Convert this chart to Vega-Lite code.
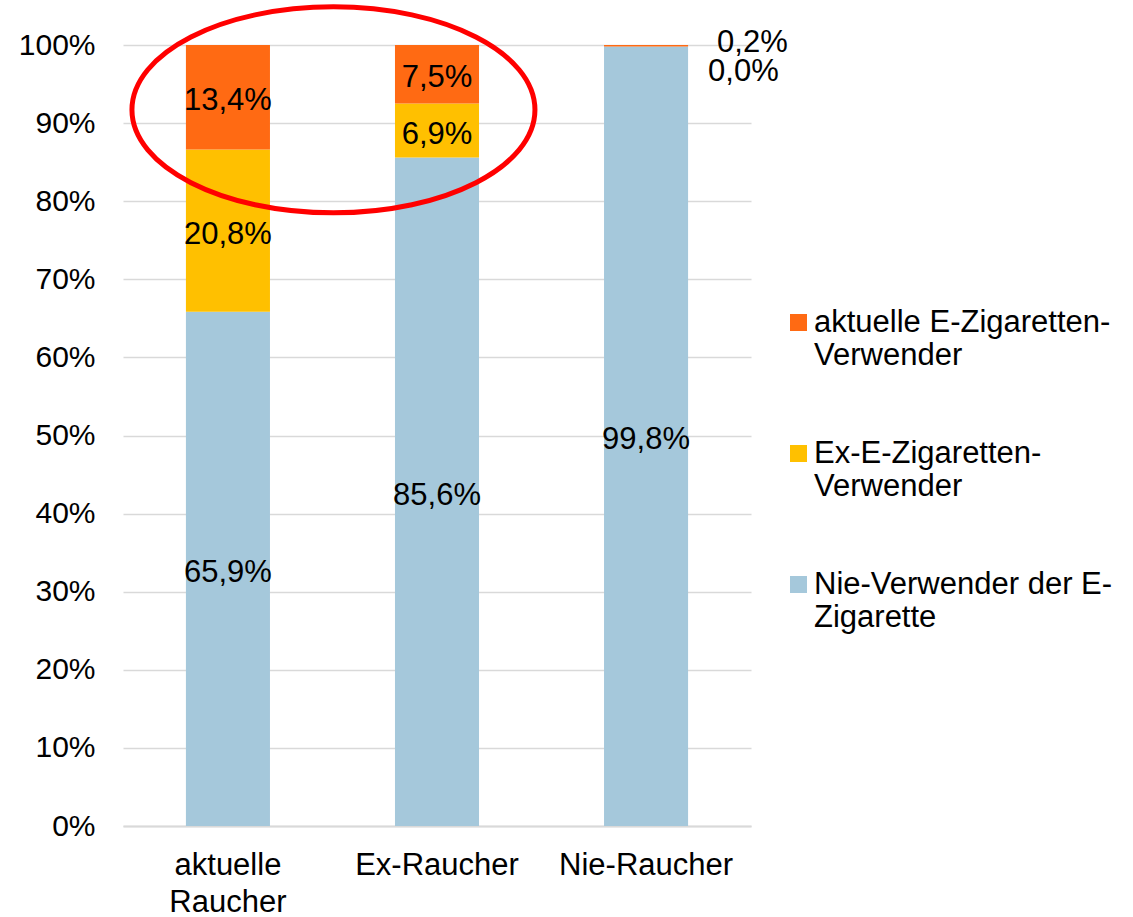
{
  "$schema": "https://vega.github.io/schema/vega-lite/v6.json",
  "autosize": {"type": "none"},
  "padding": {"left": 123, "top": 45, "right": 382, "bottom": 91},
  "width": 628,
  "height": 781,
  "background": "white",
  "config": {
    "font": "Liberation Sans",
    "view": {"stroke": null},
    "locale": {"number": {"decimal": ",", "thousands": ".", "grouping": [3], "currency": ["", " €"]}}
  },
  "data": {
    "values": [
      {"Raucherstatus": "aktuelle Raucher", "Gruppe": "Nie-Verwender der E-Zigarette", "Anteil": 0.659, "Stapel": 1},
      {"Raucherstatus": "aktuelle Raucher", "Gruppe": "Ex-E-Zigaretten-Verwender", "Anteil": 0.208, "Stapel": 2},
      {"Raucherstatus": "aktuelle Raucher", "Gruppe": "aktuelle E-Zigaretten-Verwender", "Anteil": 0.134, "Stapel": 3},
      {"Raucherstatus": "Ex-Raucher", "Gruppe": "Nie-Verwender der E-Zigarette", "Anteil": 0.856, "Stapel": 1},
      {"Raucherstatus": "Ex-Raucher", "Gruppe": "Ex-E-Zigaretten-Verwender", "Anteil": 0.069, "Stapel": 2},
      {"Raucherstatus": "Ex-Raucher", "Gruppe": "aktuelle E-Zigaretten-Verwender", "Anteil": 0.075, "Stapel": 3},
      {"Raucherstatus": "Nie-Raucher", "Gruppe": "Nie-Verwender der E-Zigarette", "Anteil": 0.998, "Stapel": 1},
      {"Raucherstatus": "Nie-Raucher", "Gruppe": "Ex-E-Zigaretten-Verwender", "Anteil": 0.0, "Stapel": 2},
      {"Raucherstatus": "Nie-Raucher", "Gruppe": "aktuelle E-Zigaretten-Verwender", "Anteil": 0.002, "Stapel": 3}
    ]
  },
  "transform": [
    {"stack": "Anteil", "groupby": ["Raucherstatus"], "sort": [{"field": "Stapel", "order": "ascending"}], "as": ["y0", "y1"], "offset": "normalize"},
    {"calculate": "(datum.y0 + datum.y1) / 2", "as": "ymid"}
  ],
  "encoding": {
    "x": {
      "field": "Raucherstatus",
      "type": "nominal",
      "sort": ["aktuelle Raucher", "Ex-Raucher", "Nie-Raucher"],
      "title": null,
      "scale": {"paddingInner": 0.598, "paddingOuter": 0.301},
      "axis": {
        "labelAngle": 0,
        "labelFont": "Liberation Sans",
        "labelFontSize": 31,
        "labelColor": "black",
        "labelBaseline": "top",
        "labelPadding": 24,
        "labelLineHeight": 37,
        "labelExpr": "datum.label == 'aktuelle Raucher' ? ['aktuelle', 'Raucher'] : datum.label",
        "ticks": false,
        "domain": true,
        "domainColor": "#D9D9D9",
        "domainWidth": 2,
        "grid": false
      }
    }
  },
  "layer": [
    {
      "mark": {"type": "bar"},
      "encoding": {
        "y": {
          "field": "y0",
          "type": "quantitative",
          "scale": {"domain": [0, 1], "nice": false},
          "title": null,
          "axis": {
            "format": ".0%",
            "values": [0, 0.1, 0.2, 0.3, 0.4, 0.5, 0.6, 0.7, 0.8, 0.9, 1],
            "labelFont": "Liberation Sans",
            "labelFontSize": 30,
            "labelColor": "black",
            "labelPadding": 28,
            "ticks": false,
            "domain": false,
            "gridColor": "#D9D9D9",
            "gridWidth": 1.5
          }
        },
        "y2": {"field": "y1"},
        "color": {
          "field": "Gruppe",
          "type": "nominal",
          "scale": {
            "domain": ["aktuelle E-Zigaretten-Verwender", "Ex-E-Zigaretten-Verwender", "Nie-Verwender der E-Zigarette"],
            "range": ["#FF6A13", "#FFC000", "#A5C8DB"]
          },
          "legend": {
            "title": null,
            "orient": "none",
            "legendX": 660,
            "legendY": 262,
            "padding": 0,
            "symbolType": "square",
            "symbolSize": 289,
            "symbolStrokeWidth": 0,
            "labelFont": "Liberation Sans",
            "labelFontSize": 31,
            "labelColor": "black",
            "labelLimit": 400,
            "labelOffset": 0,
            "labelLineHeight": 36,
            "rowPadding": 66,
            "labelExpr": "datum.label == 'aktuelle E-Zigaretten-Verwender' ? ['aktuelle E-Zigaretten-', 'Verwender'] : datum.label == 'Ex-E-Zigaretten-Verwender' ? ['Ex-E-Zigaretten-', 'Verwender'] : ['Nie-Verwender der E-', 'Zigarette']"
          }
        }
      }
    },
    {
      "transform": [{"filter": "datum.Raucherstatus != 'Nie-Raucher' || datum.Stapel == 1"}],
      "mark": {"type": "text", "font": "Liberation Sans", "fontSize": 31, "color": "black", "baseline": "middle", "align": "center", "dy": 4},
      "encoding": {
        "y": {"field": "ymid", "type": "quantitative"},
        "text": {"field": "Anteil", "type": "quantitative", "format": ".1%"}
      }
    },
    {
      "transform": [{"filter": "datum.Raucherstatus == 'Nie-Raucher' && datum.Stapel == 3"}],
      "mark": {"type": "text", "font": "Liberation Sans", "fontSize": 31, "color": "black", "baseline": "middle", "align": "left", "dx": 71, "dy": -3},
      "encoding": {
        "y": {"field": "ymid", "type": "quantitative"},
        "text": {"field": "Anteil", "type": "quantitative", "format": ".1%"}
      }
    },
    {
      "transform": [{"filter": "datum.Raucherstatus == 'Nie-Raucher' && datum.Stapel == 2"}],
      "mark": {"type": "text", "font": "Liberation Sans", "fontSize": 31, "color": "black", "baseline": "middle", "align": "left", "dx": 62, "dy": 25},
      "encoding": {
        "y": {"field": "ymid", "type": "quantitative"},
        "text": {"field": "Anteil", "type": "quantitative", "format": ".1%"}
      }
    },
    {
      "data": {"values": [{}]},
      "transform": [],
      "mark": {
        "type": "point",
        "filled": false,
        "stroke": "#FF0000",
        "strokeWidth": 5,
        "opacity": 1,
        "size": 40000,
        "shape": "M3.07,0C3.07,0.5689 2.1679,1.03 1.055,1.03C-0.0579,1.03 -0.96,0.5689 -0.96,0C-0.96,-0.5689 -0.0579,-1.03 1.055,-1.03C2.1679,-1.03 3.07,-0.5689 3.07,0Z"
      },
      "encoding": {
        "x": {"datum": "aktuelle Raucher"},
        "y": {"datum": 0.917}
      }
    }
  ]
}
